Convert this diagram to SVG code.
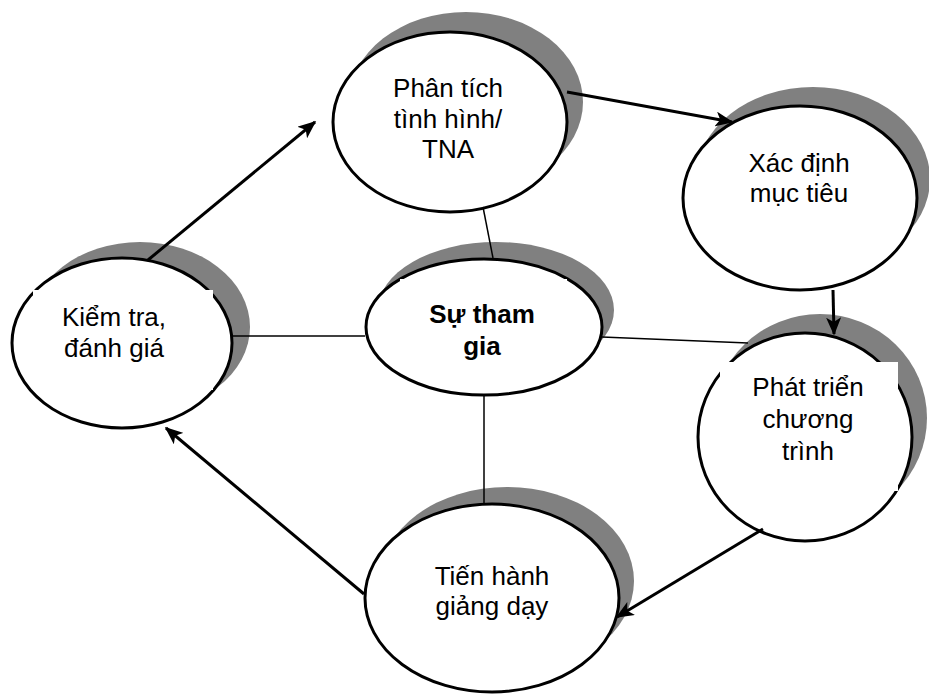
<svg xmlns="http://www.w3.org/2000/svg" width="929" height="700" viewBox="0 0 929 700">
<style>
.bg{fill:#ffffff}
.sh{fill:#808080;stroke:none}
.el{fill:#ffffff;stroke:#000000;stroke-width:3}
.wb{fill:#ffffff;stroke:none}
.t{font-family:"Liberation Sans",Arial,sans-serif;font-size:26px;fill:#000000;text-anchor:middle}
.b{font-weight:bold}
.arr{stroke:#000000;stroke-width:3;fill:none;marker-end:url(#ah)}
.ln{stroke:#000000;stroke-width:1.5;fill:none}
</style>
<defs>
<marker id="ah" viewBox="0 0 12 10" refX="11" refY="5" markerWidth="6" markerHeight="5" markerUnits="strokeWidth" orient="auto">
<path d="M0,0 L12,5 L0,10 L3,5 z" fill="#000000"/>
</marker>
</defs>
<rect class="bg" x="0" y="0" width="929" height="700"/>
<g id="node-phan-tich">
<ellipse class="sh" cx="466" cy="102" rx="117" ry="90"/>
<ellipse class="el" cx="450" cy="122" rx="117" ry="90"/>
<text class="t" x="448" y="97">Phân tích</text>
<text class="t" x="448" y="128">tình hình/</text>
<text class="t" x="448" y="158">TNA</text>
</g>
<g id="node-xac-dinh">
<ellipse class="sh" cx="813" cy="179" rx="117" ry="92"/>
<ellipse class="el" cx="800" cy="198" rx="117" ry="92"/>
<text class="t" x="799" y="172">Xác định</text>
<text class="t" x="799" y="202">mục tiêu</text>
</g>
<g id="node-su-tham-gia">
<ellipse class="sh" cx="496" cy="310" rx="118" ry="68"/>
<ellipse class="el" cx="484" cy="327" rx="118" ry="68"/>
<rect class="wb" x="400" y="279" width="167" height="94"/>
<text class="t b" x="482" y="323">Sự tham</text>
<text class="t b" x="482" y="355">gia</text>
</g>
<g id="node-kiem-tra">
<ellipse class="sh" cx="140" cy="327" rx="110" ry="85"/>
<ellipse class="el" cx="122" cy="343" rx="110" ry="85"/>
<rect class="wb" x="33" y="290" width="180" height="100"/>
<text class="t" x="114" y="326">Kiểm tra,</text>
<text class="t" x="114" y="357">đánh giá</text>
</g>
<g id="node-phat-trien">
<ellipse class="sh" cx="820" cy="418" rx="107" ry="104"/>
<ellipse class="el" cx="805" cy="437" rx="107" ry="104"/>
<rect class="wb" x="720" y="362" width="178" height="129"/>
<text class="t" x="808" y="396">Phát triển</text>
<text class="t" x="808" y="428">chương</text>
<text class="t" x="808" y="460">trình</text>
</g>
<g id="node-tien-hanh">
<ellipse class="sh" cx="507" cy="581" rx="127" ry="94"/>
<ellipse class="el" cx="492" cy="598" rx="127" ry="94"/>
<text class="t" x="492" y="585">Tiến hành</text>
<text class="t" x="492" y="615">giảng dạy</text>
</g>
<g id="connectors">
<line class="arr" x1="148" y1="260" x2="315" y2="122"/>
<line class="arr" x1="567" y1="92" x2="732" y2="122"/>
<line class="arr" x1="833" y1="290" x2="834" y2="334"/>
<line class="arr" x1="763" y1="529" x2="617" y2="617"/>
<line class="arr" x1="364" y1="594" x2="166" y2="428"/>
<line class="ln" x1="483" y1="207" x2="493" y2="258"/>
<line class="ln" x1="232" y1="336" x2="365" y2="336"/>
<line class="ln" x1="602" y1="337" x2="748" y2="343"/>
<line class="ln" x1="484" y1="395" x2="484" y2="504"/>
</g>
</svg>
